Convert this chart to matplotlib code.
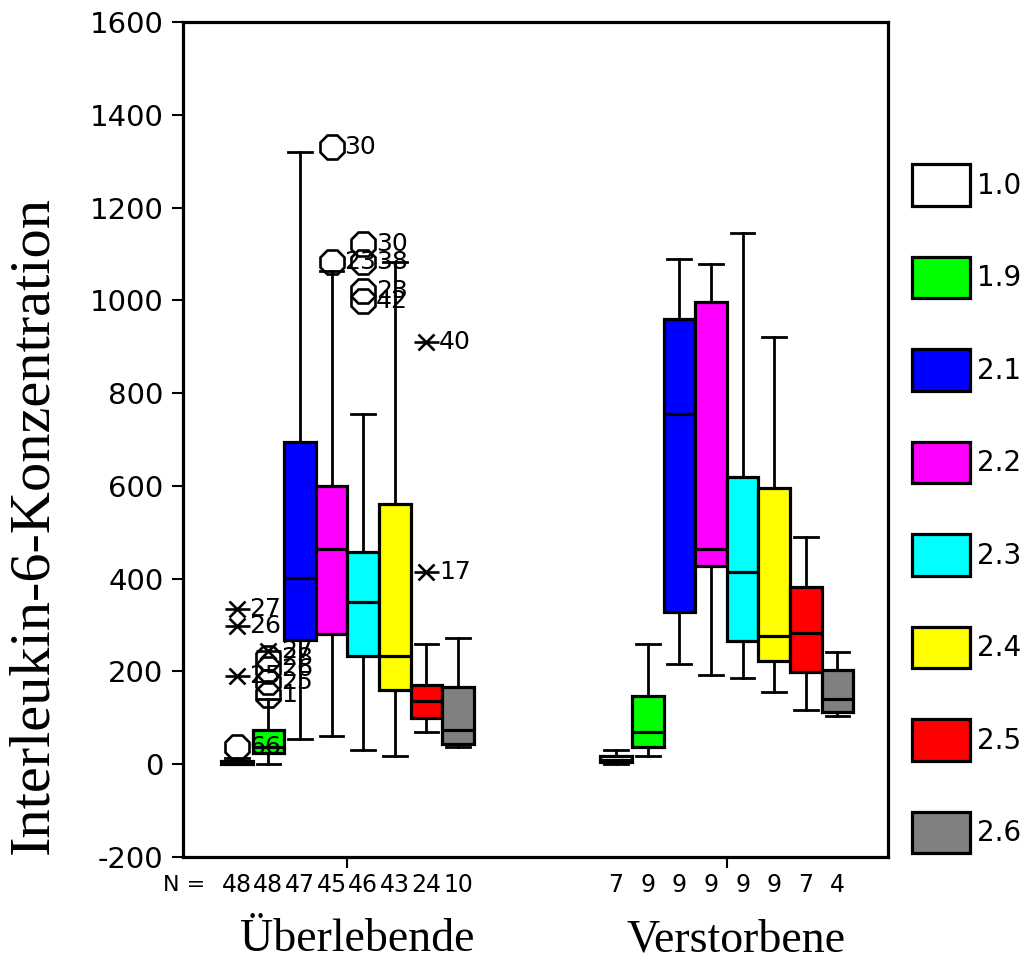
import matplotlib
matplotlib.use('Agg')
import matplotlib.pyplot as plt
import matplotlib.transforms as mtransforms
from matplotlib.patches import Patch

plt.rcParams['axes.unicode_minus'] = False

# ---- data ----
groups = ['Überlebende', 'Verstorbene']
series = ['1.0', '1.9', '2.1', '2.2', '2.3', '2.4', '2.5', '2.6']
colors = ['#ffffff', '#00ff00', '#0000ff', '#ff00ff', '#00ffff', '#ffff00', '#ff0000', '#808080']

surv_n = [48, 48, 47, 45, 46, 43, 24, 10]
surv_whislo = [0, 0, 54, 60, 30, 17, 69, 37]
surv_q1 = [0, 24, 267, 280, 233, 160, 99, 43]
surv_med = [3, 37, 401, 463, 349, 233, 136, 73]
surv_q3 = [8, 73, 694, 600, 457, 561, 170, 166]
surv_whishi = [14, 140, 1320, 1063, 755, 1082, 259, 272]

dead_n = [7, 9, 9, 9, 9, 9, 7, 4]
dead_whislo = [0, 17, 216, 192, 185, 155, 116, 103]
dead_q1 = [4, 37, 328, 427, 265, 222, 198, 112]
dead_med = [9, 69, 755, 464, 414, 276, 282, 140]
dead_q3 = [17, 147, 960, 996, 619, 595, 382, 203]
dead_whishi = [30, 259, 1089, 1078, 1145, 921, 489, 241]

# outliers (series index -> list of (value, case label))
surv_circles = {0: [(37, '66')],
                1: [(150, '1'), (178, '25'), (205, '26'), (228, '28')],
                3: [(1082, '23'), (1330, '30')],
                4: [(1121, '30'), (1082, '38'), (1020, '23'), (998, '42')]}
surv_stars = {0: [(190, '25'), (297, '26'), (334, '27')],
              1: [(245, '27')],
              6: [(414, '17'), (910, '40')]}

group_centers = [0, 12]

W, H = 1028, 961
fig = plt.figure(figsize=(W / 100, H / 100), dpi=100)
ax = fig.add_axes([183 / W, 1 - 857 / H, (888 - 183) / W, (857 - 22) / H])

trans_fig = mtransforms.blended_transform_factory(ax.transData, fig.transFigure)

all_stats = [
    (surv_n, surv_whislo, surv_q1, surv_med, surv_q3, surv_whishi),
    (dead_n, dead_whislo, dead_q1, dead_med, dead_q3, dead_whishi),
]

for g, (n, wl, q1, md, q3, wh) in enumerate(all_stats):
    positions = [group_centers[g] + i - 3.5 for i in range(len(series))]
    stats = [dict(whislo=wl[i], q1=q1[i], med=md[i], q3=q3[i], whishi=wh[i], fliers=[])
             for i in range(len(series))]
    bp = ax.bxp(stats, positions=positions, widths=1.0, patch_artist=True,
                showfliers=False, capwidths=0.75,
                boxprops=dict(linewidth=2.3, edgecolor='black'),
                medianprops=dict(linewidth=2.3, color='black'),
                whiskerprops=dict(linewidth=2.0, color='black'),
                capprops=dict(linewidth=2.0, color='black'))
    for patch, c in zip(bp['boxes'], colors):
        patch.set_facecolor(c)
    for i, p in enumerate(positions):
        ax.text(p, 1 - 885 / H, str(n[i]), transform=trans_fig, ha='center', va='center',
                fontsize=17)
    ax.text(group_centers[g] + 0.3, 1 - 940 / H, groups[g], transform=trans_fig,
            ha='center', va='center', fontsize=33, family='Liberation Serif')

# outliers for the survivor group
for i, pts in surv_circles.items():
    x = group_centers[0] + i - 3.5
    for v, lbl in pts:
        ax.plot([x], [v], marker='8', ms=18, mfc='none', mec='black', mew=1.9, ls='none')
        ax.annotate(lbl, (x, v), xytext=(9, 0), textcoords='offset points',
                    ha='left', va='center', fontsize=18)
for i, pts in surv_stars.items():
    x = group_centers[0] + i - 3.5
    for v, lbl in pts:
        ax.plot([x], [v], marker='x', ms=12, mec='black', mew=1.9, ls='none')
        ax.plot([x], [v], marker='_', ms=18, mec='black', mew=1.9, ls='none')
        ax.annotate(lbl, (x, v), xytext=(9, 0), textcoords='offset points',
                    ha='left', va='center', fontsize=18)

fig.text(205 / W, 1 - 885 / H, 'N =', ha='right', va='center', fontsize=16)

ax.set_xlim(-5.2, 17.1)
ax.set_ylim(-200, 1600)
ax.set_yticks(range(-200, 1601, 200))
ax.set_xticks(group_centers)
ax.set_xticklabels(['', ''])
ax.tick_params(axis='y', direction='out', length=8, width=1.5, labelsize=21, pad=6)
ax.tick_params(axis='x', direction='out', length=8, width=1.5)
for s in ax.spines.values():
    s.set_linewidth(2.3)

fig.text(33 / W, 1 - 525 / H, 'Interleukin-6-Konzentration', rotation=90,
         ha='center', va='center', fontsize=42, family='Liberation Serif')

handles = [Patch(facecolor=c, edgecolor='black', linewidth=2.3) for c in colors]
fs = 20
fpx = fs * 100 / 72
fig.legend(handles, series, loc='upper left', bbox_to_anchor=(912 / W, 1 - 164 / H),
           frameon=False, fontsize=fs, handlelength=58 / fpx,
           handleheight=53.4 / fpx, labelspacing=51 / fpx,
           handletextpad=0.25, borderpad=0, borderaxespad=0)

fig.savefig('out.png', dpi=100)
